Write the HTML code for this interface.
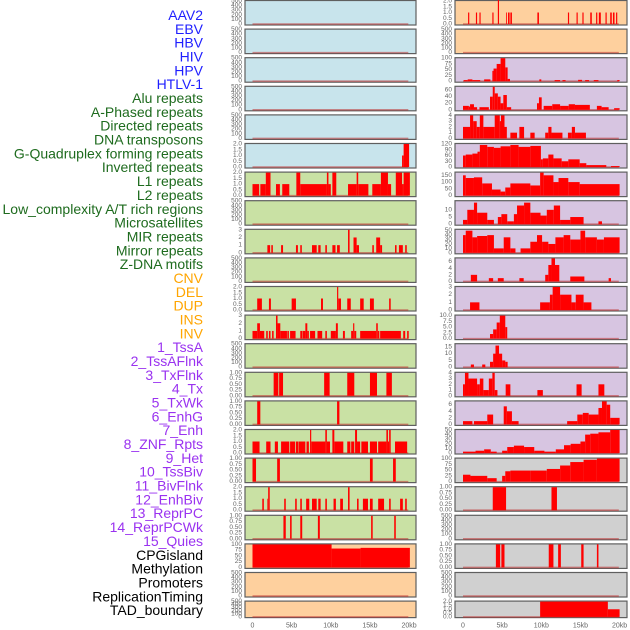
<!DOCTYPE html>
<html><head><meta charset="utf-8"><style>
html,body{margin:0;padding:0;background:#fff;}
svg{display:block;font-family:"Liberation Sans",sans-serif;}
</style></head><body>
<svg id="chart" width="630" height="630" viewBox="0 0 630 630" xmlns="http://www.w3.org/2000/svg"></svg>
<script>
// ---- labels ----
const labelTexts = ["AAV2","EBV","HBV","HIV","HPV","HTLV-1","Alu repeats","A-Phased repeats","Directed repeats","DNA transposons","G-Quadruplex forming repeats","Inverted repeats","L1 repeats","L2 repeats","Low_complexity A/T rich regions","Microsatellites","MIR repeats","Mirror repeats","Z-DNA motifs","CNV","DEL","DUP","INS","INV","1_TssA","2_TssAFlnk","3_TxFlnk","4_Tx","5_TxWk","6_EnhG","7_Enh","8_ZNF_Rpts","9_Het","10_TssBiv","11_BivFlnk","12_EnhBiv","13_ReprPC","14_ReprPCWk","15_Quies","CPGisland","Methylation","Promoters","ReplicationTiming","TAD_boundary"];
const labelGroups = [0,0,0,0,0,0,1,1,1,1,1,1,1,1,1,1,1,1,1,2,2,2,2,2,3,3,3,3,3,3,3,3,3,3,3,3,3,3,3,4,4,4,4,4];
const xTickKb = [0,5,10,15,20];
const xTickLabels = ["0","5kb","10kb","15kb","20kb"];

// ---- tick sets ----
const tkEmpty = ["0","100","200","300","400","500"];
const tk2 = ["0.0","0.5","1.0","1.5","2.0"];
const tk3 = ["0","1","2","3"];
const tk1 = ["0.00","0.25","0.50","0.75","1.00"];
const tk100 = ["0","25","50","75","100"];
const tk60 = ["0","20","40","60"];
const tk4 = ["0","1","2","3","4"];
const tk120 = ["0","30","60","90","120"];
const tk150 = ["0","50","100","150"];
const tk10 = ["0","5","10"];
const tk50 = ["0","10","20","30","40","50"];
const tk6 = ["0","2","4","6"];
const tk10b = ["0.0","2.5","5.0","7.5","10.0"];
const tk15 = ["0","5","10","15"];

// ---- left column tracks [startKb, endKb, value] ----
const L00=[],L01=[],L02=[],L03=[],L04=[];
const L05=[[19.1,19.3,1],[19.3,20,2]];
const L06=[[0,0.85,1],[1,1.7,1],[1.7,2.3,2],[3,3.5,1],[3.8,4.7,1],[5.6,6.1,2],[6.1,9.5,1],[9.5,9.7,2],[9.7,10,1],[10.2,10.7,2],[12.2,13.3,1],[13.3,13.5,2],[13.5,14.8,1],[15.3,16.4,1],[16.4,17.3,2],[17.3,17.7,1],[18.3,19.1,2],[19.1,19.3,1],[19.3,20.1,2]];
const L07=[];
const L08=[[1.9,2.25,1],[2.4,2.6,1],[3.65,3.9,1],[5.55,5.8,1],[6.1,6.3,1],[7.6,8.2,1],[8.4,8.7,1],[9.3,9.5,1],[10.2,10.6,1],[10.8,11.15,1],[12.2,12.4,3],[12.9,13.3,2],[13.3,13.6,1],[15.3,15.5,1],[15.8,16.3,2],[16.3,16.55,1],[18.2,18.4,1],[18.7,19.2,1],[19.5,19.7,1]];
const L09=[];
const L10=[[0.6,1.2,1],[2.1,2.35,1],[5,5.55,1],[8.75,9,1],[10.8,10.95,2],[10.95,11.3,1],[12.1,12.55,1],[13.75,14.2,1],[15,15.5,1],[17.45,17.65,1]];
const L11=[[0,0.6,1],[0.6,0.95,2],[0.95,1.5,1],[1.75,1.95,1],[2.1,2.3,1],[2.5,2.7,1],[3,3.2,3],[3.2,3.55,2],[3.55,4.4,1],[4.45,4.65,1],[4.8,5.5,1],[6.1,6.35,1],[6.4,6.75,1],[6.75,7,2],[7,7.2,1],[7.35,8,1],[8.3,8.9,1],[9.3,9.5,1],[10,10.65,1],[10.65,10.9,2],[11.55,11.8,1],[12.6,12.85,1],[12.85,13,2],[13,13.25,1],[13.75,15.8,1],[15.8,16,2],[16,16.2,1],[16.3,18.95,1],[19.25,19.5,1],[19.75,19.95,1]];
const L12=[];
const L13=[[2.7,3.3,1],[3.4,3.9,1],[9.15,9.85,1],[12.1,13,1],[15,15.9,1],[17.1,17.8,1]];
const L14=[[0.6,1,1],[10.8,11.1,1]];
const L15=[[0,0.9,1],[1.75,2.3,1],[2.85,3.25,1],[3.65,4.7,1],[4.8,5.45,1],[5.55,5.85,1],[5.9,6.75,1],[6.9,7.2,1],[7.35,7.5,2],[7.5,9.3,1],[9.3,9.5,2],[9.5,9.9,1],[10.2,10.45,2],[10.45,11.6,1],[12.1,12.5,1],[12.6,13,1],[13.1,13.35,2],[13.35,13.75,1],[13.9,14.75,1],[15,15.9,1],[16.05,17.1,1],[17.1,17.3,2],[17.3,17.45,1],[17.45,17.65,2],[18.2,19.75,1]];
const L16=[[0,0.45,1],[3.15,3.5,1],[15,15.35,1],[17.95,18.3,1]];
const L17=[[1.25,1.45,1],[1.9,2,1],[2,2.2,2],[4.05,4.25,1],[5.45,5.65,1],[6.1,6.3,1],[6.85,7.25,1],[7.6,8.2,1],[8.4,8.7,1],[9.3,9.5,1],[10.35,10.65,1],[11.2,11.55,1],[12.2,12.4,2],[13.35,13.55,1],[14.1,14.75,1],[15,15.35,1],[16.05,16.8,1],[17.45,17.65,1],[18.85,19.2,1],[19.5,19.7,1]];
const L18=[[3.95,4.25,1],[4.8,5,1],[6.1,6.35,1],[8.35,8.6,1],[15.15,15.35,1],[18.1,18.3,1]];
const L19=[[0,10.1,100],[10.1,13.8,82],[13.8,20.1,85]];
const L20=[],L21=[];

// ---- right column tracks ----
const R00=[[0.65,0.8,1],[1.65,1.8,1],[2.1,2.25,1],[3.75,3.9,1],[4.45,4.6,2.1],[5.5,5.6,1],[5.75,5.95,1],[6.05,6.25,1],[9.5,9.7,1],[13.4,13.55,1],[14.5,14.65,1],[15.25,15.4,1],[16.25,16.45,1],[17,17.15,1],[17.35,17.6,1],[18.2,18.35,1],[18.8,19,1],[19.15,19.35,1],[19.55,19.7,1]];
const R01=[];
const R02=[[0.1,0.6,5],[0.6,1.2,8],[1.2,2.2,5],[2.7,3.5,8],[3.75,3.9,45],[3.9,4.3,55],[4.3,4.8,75],[4.8,5.4,100],[5.4,5.7,60],[5.7,6,10],[9.75,10,8],[11.7,12.4,5],[12.7,13.1,5],[14.7,15.2,6],[15.6,16.1,5],[16.7,17.3,5],[19.7,20,5]];
const R03=[[0,0.75,12],[0.75,0.9,10],[0.9,1.4,17],[1.4,1.8,8],[2.1,3.3,8],[3.45,3.8,40],[3.8,4.05,70],[4.05,4.45,50],[4.45,4.8,40],[4.8,5.15,20],[5.15,5.6,45],[5.6,6.15,8],[9.45,9.7,20],[9.7,10.05,38],[10.3,11.4,12],[11.4,12.4,17],[12.4,13.5,12],[13.5,14.3,17],[14.3,16.2,15],[17.1,17.7,12],[17.7,18.6,8],[19.3,20,5]];
const R04=[[0,0.9,2],[0.9,1.3,4],[1.3,1.75,3],[1.75,2.15,2],[2.15,2.6,4],[2.6,4.05,2],[4.05,4.7,4],[4.7,4.85,3],[4.85,5.3,4],[5.3,5.6,2],[6.05,6.9,1],[7.2,7.8,2],[8.6,9.15,1],[10.5,10.9,1],[10.9,11.3,2],[11.3,12.7,1],[13.4,13.9,1],[13.9,14.3,2],[14.3,15.7,1]];
const R05=[[0,0.35,60],[0.35,1.2,65],[1.2,1.85,70],[1.85,2.15,80],[2.15,3.1,115],[3.1,3.95,105],[3.95,4.8,100],[4.8,6.05,108],[6.05,7.1,115],[7.1,8.6,105],[8.6,9.95,110],[9.95,10.2,40],[10.2,10.9,45],[10.9,11.55,65],[11.55,12.6,45],[12.6,13.45,30],[13.45,14.9,40],[14.9,15.75,20],[15.75,18.3,10],[18.9,20,5]];
const R06=[[0,0.35,150],[0.35,1.4,130],[1.4,2.45,135],[2.45,3.7,90],[3.7,4.8,45],[4.8,5.4,30],[5.4,6.05,60],[6.05,8.6,90],[8.6,9.85,75],[9.85,10.3,170],[10.3,11.55,150],[11.55,12.2,100],[12.2,13.45,130],[13.45,14.9,100],[14.9,20,85]];
const R07=[[0,0.55,3],[0.55,1.4,10],[1.4,1.8,15],[1.8,3.1,8],[3.1,3.95,3],[4.45,4.9,5],[4.9,5.65,7],[5.65,6.5,2],[6.5,6.9,7],[6.9,7.8,13],[7.8,8.6,15],[8.6,9.9,8],[9.9,10.7,6],[10.7,11.6,10],[11.6,12.4,13],[12.4,13.7,3],[13.7,15.4,5],[17.3,17.75,2]];
const R08=[[0,0.35,40],[0.35,1.2,50],[1.2,1.8,35],[1.8,3.1,38],[3.1,3.95,40],[3.95,5.2,10],[5.2,6.05,35],[6.05,6.7,10],[7.35,8.6,10],[8.6,9.45,25],[9.45,10.1,40],[10.1,10.9,25],[10.9,11.8,20],[11.8,12.85,35],[12.85,13.7,40],[13.7,15,30],[15,15.6,50],[15.6,17.1,35],[17.1,18,30],[18,20,35]];
const R09=[[1,1.8,2],[3.3,3.85,1],[4.45,5.2,1],[7.2,7.75,1],[10.5,10.9,2],[10.9,11.3,5],[11.3,11.75,7],[11.75,12.3,5],[13.7,15.5,1.5],[18.6,18.9,1]];
const R10=[[0.9,2.1,1],[9.85,11.1,1],[11.1,11.45,2],[11.45,12.4,3],[12.4,13.85,2],[13.85,14.4,1],[14.4,15.4,2],[15.4,16.4,1]];
const R11=[[3.45,3.85,2],[3.85,4.3,4],[4.3,4.7,7],[4.7,5.4,10],[5.4,5.65,5]];
const R12=[[1,1.4,2],[2.45,2.85,2],[3.45,3.85,4],[3.85,4.15,10],[4.15,4.6,16],[4.6,5,10],[5,5.4,5],[5.4,5.7,4]];
const R13=[[0,0.25,2],[0.25,0.7,4],[0.7,1.8,3],[1.8,2.15,2],[2.15,2.6,3],[2.6,3.3,1],[3.3,3.75,3],[3.75,4.05,4],[4.05,4.4,1],[5.45,6.05,2],[9.5,10.2,1],[14.5,15.15,2],[17.3,18.05,2]];
const R14=[[0,1.2,1],[1.4,3.1,1],[3.1,3.85,3],[5.2,5.6,5.5],[5.6,6.25,4],[6.25,7.1,1],[13.3,14.6,1],[14.6,15.3,3],[15.3,16.05,3.5],[16.05,17.3,3],[17.3,17.75,5],[17.75,18.35,7],[18.35,18.8,6],[18.8,20,2]];
const R15=[[0,1.6,3],[1.6,2.7,5],[2.7,3.55,8],[3.55,4.3,3],[5,5.65,5],[5.65,6.5,13],[6.5,7.8,16],[7.8,9.1,13],[9.1,10.4,5],[10.4,11.85,3],[11.85,12.9,8],[12.9,13.75,17],[13.75,15,20],[15,15.6,25],[15.6,16.25,40],[16.25,17.3,42],[17.3,18.8,45],[18.8,20,50]];
const R16=[[0,0.95,30],[0.95,3.1,25],[3.1,4.3,15],[5,5.4,25],[5.4,6.05,45],[6.05,8.6,48],[8.6,10.7,48],[10.7,12.4,55],[12.4,13.7,70],[13.7,15.4,85],[15.4,17.1,95],[17.1,20,100]];
const R17=[[3.8,5.5,1],[11.3,12,1]];
const R18=[];
const R19=[[4.2,4.75,1],[4.9,5.3,1],[10.95,11.55,1],[12.15,12.5,1],[15.1,15.4,1],[17.1,17.3,1]];
const R20=[];
const R21=[[9.85,18.5,2],[18.5,20,1]];

const leftTracks=[L00,L01,L02,L03,L04,L05,L06,L07,L08,L09,L10,L11,L12,L13,L14,L15,L16,L17,L18,L19,L20,L21];
const rightTracks=[R00,R01,R02,R03,R04,R05,R06,R07,R08,R09,R10,R11,R12,R13,R14,R15,R16,R17,R18,R19,R20,R21];
const leftTicks=[tkEmpty,tkEmpty,tkEmpty,tkEmpty,tkEmpty,tk2,tk2,tkEmpty,tk3,tkEmpty,tk2,tk3,tkEmpty,tk1,tk1,tk2,tk1,tk2,tk1,tk100,tkEmpty,tkEmpty];
const rightTicks=[tk2,tkEmpty,tk100,tk60,tk4,tk120,tk150,tk10,tk50,tk6,tk3,tk10b,tk15,tk4,tk6,tk50,tk100,tk1,tkEmpty,tk1,tkEmpty,tk2];
const leftMax=[500,500,500,500,500,2,2,500,3,500,2,3,500,1,1,2,1,2,1,100,500,500];
const rightMax=[2,500,100,70,4,120,170,16,52,7,3,10,17,4,7,50,100,1,500,1,500,2];

// ---- layout ----
const NS="http://www.w3.org/2000/svg";
const svg=document.getElementById('chart');
const groupColors=["#1f1fff","#1e6b1e","#ffa500","#9a32f0","#000000"];
const leftBg=i=> i<6?"#c8e4ec":(i<19?"#c9e1a4":"#fed09e");
const rightBg=i=> i<2?"#fed09e":(i<16?"#d7c5e1":"#d0d0d0");
const cols=[{x0:245,x1:416,z:252.5,s:7.83},{x0:455,x1:627,z:463,s:7.83}];
function xScale(c,kb){return cols[c].z+kb*cols[c].s;}
function rowTop(i){return i*28.6+0.5;}
function rowH(i){return i===21?16.5:24.5;}
function mk(tag,attrs){const e=document.createElementNS(NS,tag);for(const k in attrs)e.setAttribute(k,attrs[k]);svg.appendChild(e);return e;}

labelTexts.forEach((t,i)=>{
  const e=mk('text',{x:203,y:15+i*13.84,'text-anchor':'end','dominant-baseline':'central','font-size':14,fill:groupColors[labelGroups[i]]});
  
  
  e.textContent=t;
});

function drawPanel(c,i,data,ticks,ymax,bg){
  const top=rowTop(i),h=rowH(i),x0=cols[c].x0,x1=cols[c].x1;
  const pad=h*0.04;
  const yS=v=>top+h-pad-(v/ymax)*(h-pad-0.5);
  const p=mk('rect',{x:x0,y:top,width:x1-x0,height:h,fill:bg,stroke:'#5f5f5f','stroke-width':1.2});
  
  
  const bl=mk('line',{x1:xScale(c,0),x2:xScale(c,19.9),y1:yS(0),y2:yS(0),stroke:'rgba(190,50,50,0.55)','stroke-width':1.6});
  
  
  data.forEach(d=>{
    const yt=Math.max(yS(d[2]),c===1&&i===0?0:top);
    const r=mk('rect',{x:xScale(c,d[0]),y:yt,width:Math.max(0.8,xScale(c,d[1])-xScale(c,d[0])),height:yS(0)-yt,fill:'#ff0000'});
    
    
  });
  ticks.forEach(t=>{
    const v=parseFloat(t);
    const e=mk('text',{x:x0-3,y:yS(v),'text-anchor':'end','dominant-baseline':'central','font-size':6.5,fill:'#666'});
    
    
    e.textContent=t;
  });
}
for(let i=0;i<22;i++){
  drawPanel(0,i,leftTracks[i],leftTicks[i],leftMax[i],leftBg(i));
  drawPanel(1,i,rightTracks[i],rightTicks[i],rightMax[i],rightBg(i));
}
[0,1].forEach(c=>{
  xTickKb.forEach((kb,j)=>{
    const e=mk('text',{x:xScale(c,kb),y:626,'text-anchor':'middle','dominant-baseline':'central','font-size':7,fill:'#666'});
    
    
    e.textContent=xTickLabels[j];
  });
});
</script>
</body></html>
